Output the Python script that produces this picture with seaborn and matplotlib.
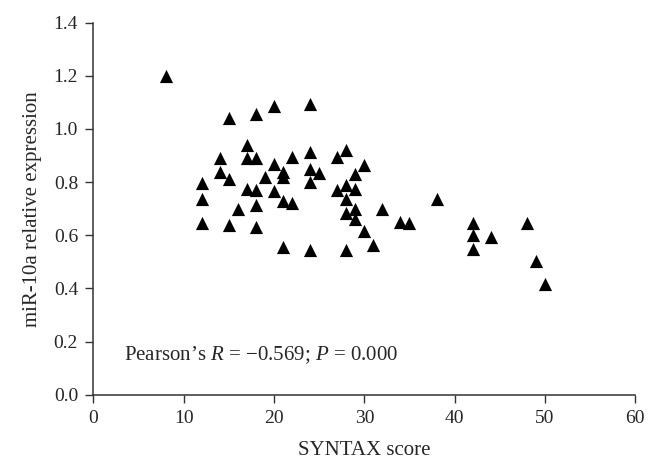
import pandas as pd
import matplotlib.pyplot as plt
import seaborn as sns

# Data
syntax = [8, 15, 18, 20, 17, 14, 17, 18, 20, 22, 14, 15, 21, 21, 19, 12, 17, 18, 20, 12,
          18, 21, 22, 16, 12, 15, 18, 21,
          24, 24, 27, 28, 30, 24, 25, 24, 29, 28, 29, 27, 28, 29, 32, 38, 28, 29, 34, 35,
          30, 42, 42, 42, 31, 24, 28,
          44, 48, 49, 50]
mir10a = [1.20, 1.04, 1.055, 1.085, 0.94, 0.89, 0.89, 0.89, 0.87, 0.895, 0.84, 0.81, 0.84, 0.82,
          0.82, 0.795, 0.775, 0.77, 0.765, 0.735, 0.715, 0.73, 0.72, 0.70, 0.645, 0.64, 0.63, 0.555,
          1.095, 0.915, 0.895, 0.92, 0.865, 0.85, 0.835, 0.80, 0.83, 0.79, 0.775, 0.77, 0.735, 0.70,
          0.70, 0.735, 0.685, 0.66, 0.65, 0.645, 0.615, 0.645, 0.60, 0.55, 0.565, 0.545, 0.545,
          0.595, 0.645, 0.505, 0.415]
xticks = [0, 10, 20, 30, 40, 50, 60]
yticks = [0.0, 0.2, 0.4, 0.6, 0.8, 1.0, 1.2, 1.4]

df = pd.DataFrame({'SYNTAX score': syntax, 'miR-10a': mir10a})

sns.set_style('ticks')
plt.rcParams['font.family'] = ['Liberation Serif', 'DejaVu Serif']
plt.rcParams['mathtext.fontset'] = 'custom'
plt.rcParams['mathtext.rm'] = 'Liberation Serif'
plt.rcParams['mathtext.it'] = 'Liberation Serif:italic'

fig = plt.figure(figsize=(6.6, 4.73), dpi=100)
ax = fig.add_axes([0.1414, 0.1655, 0.8212, 0.7865])

sns.scatterplot(data=df, x='SYNTAX score', y='miR-10a', marker='^', color='black',
                s=90, linewidth=0, ax=ax)

ax.set_xlim(0, 60)
ax.set_ylim(0, 1.4)
ax.set_xticks(xticks)
ax.set_yticks(yticks)
ax.set_yticklabels([f'{v:.1f}' for v in yticks])
ax.tick_params(labelsize=14, length=6, width=1, color='#333333', direction='out', pad=5)
for side in ['left', 'bottom']:
    ax.spines[side].set_color('#333333')
    ax.spines[side].set_linewidth(1.1)
sns.despine(ax=ax)

ax.set_xlabel('SYNTAX score', fontsize=15, labelpad=10)
ax.set_ylabel('miR-10a relative expression', fontsize=15, labelpad=8)
ax.text(3.4, 0.15, "Pearson\u2019s $\\it{R}$ = \u22120.569; $\\it{P}$ = 0.000",
        fontsize=15, va='center', ha='left')

plt.savefig('out.png', dpi=100)
